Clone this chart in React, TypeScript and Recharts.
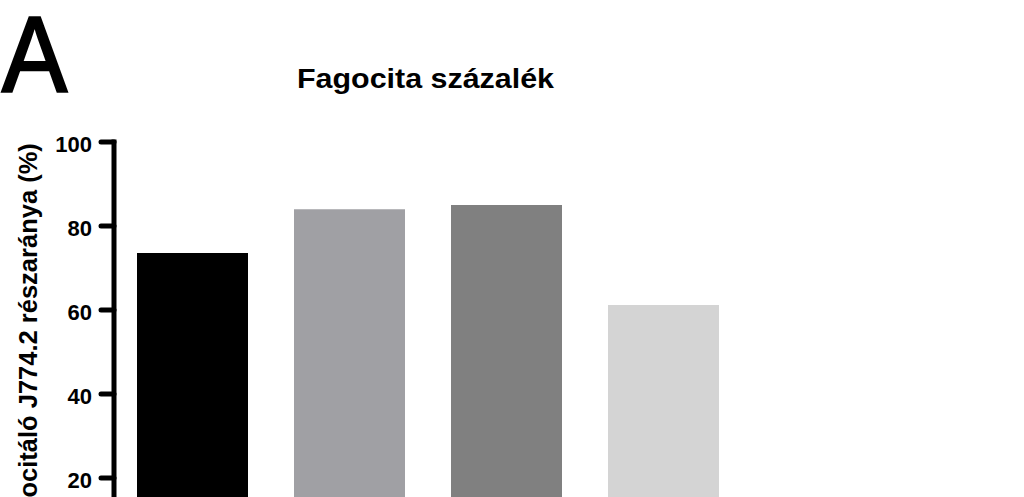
import React from "react";
import { Bar, BarChart, Cell, XAxis, YAxis } from "recharts";

// csoportok (a kategórianevek a képen kívül esnek)
const categories = ["1", "2", "3", "4"];
const values = [73.6, 84.0, 85.0, 61.2];
const yTicks = [0, 20, 40, 60, 80, 100];
const barColors = ["#000000", "#a0a0a4", "#808080", "#d4d4d4"];

const data = categories.map((name, i) => ({ name, value: values[i] }));

const FONT = "'Liberation Sans', Arial, Helvetica, sans-serif";

function YTick(props: any) {
  const { x, y, payload } = props;
  return (
    <text
      x={x}
      y={y}
      dy={10}
      textAnchor="end"
      fontFamily={FONT}
      fontWeight="bold"
      fontSize={22}
      fill="#000"
    >
      {payload.value}
    </text>
  );
}

function YLabel() {
  return (
    <text
      x={36.5}
      y={343}
      transform="rotate(-90 36.5 343)"
      textAnchor="middle"
      fontFamily={FONT}
      fontWeight="bold"
      fontSize={25.5}
      fill="#000"
    >
      Fagocitáló J774.2 részaránya (%)
    </text>
  );
}

export default function App() {
  return (
    <div style={{ position: "absolute", left: 0, top: 0, width: 1024, height: 620 }}>
      <svg
        width={1024}
        height={120}
        style={{ position: "absolute", left: 0, top: 0 }}
      >
        <text
          x={2}
          y={92}
          fontFamily={FONT}
          fontSize={107}
          textLength={65}
          lengthAdjust="spacingAndGlyphs"
          fill="#000"
          stroke="#000"
          strokeWidth={2.5}
        >
          A
        </text>
        <text
          x={297}
          y={88}
          fontFamily={FONT}
          fontWeight="bold"
          fontSize={27.5}
          textLength={257}
          lengthAdjust="spacingAndGlyphs"
          fill="#000"
        >
          Fagocita százalék
        </text>
      </svg>
      <div style={{ position: "absolute", left: 0, top: 0 }}>
        <BarChart
          width={742}
          height={620}
          data={data}
          margin={{ top: 142, right: 0, left: 0, bottom: 18 }}
          barSize={111}
        >
          <XAxis
            dataKey="name"
            height={40}
            tick={false}
            axisLine={{ stroke: "#000", strokeWidth: 5 }}
            tickLine={false}
          />
          <YAxis
            width={114}
            domain={[0, 100]}
            ticks={yTicks}
            interval={0}
            tickSize={13}
            tickMargin={9}
            tick={<YTick />}
            axisLine={{ stroke: "#000", strokeWidth: 5, strokeLinecap: "square" }}
            tickLine={{ stroke: "#000", strokeWidth: 5, strokeLinecap: "round" }}
            label={<YLabel />}
          />
          <Bar dataKey="value" isAnimationActive={false}>
            {data.map((d, i) => (
              <Cell key={d.name} fill={barColors[i % barColors.length]} />
            ))}
          </Bar>
        </BarChart>
      </div>
    </div>
  );
}
